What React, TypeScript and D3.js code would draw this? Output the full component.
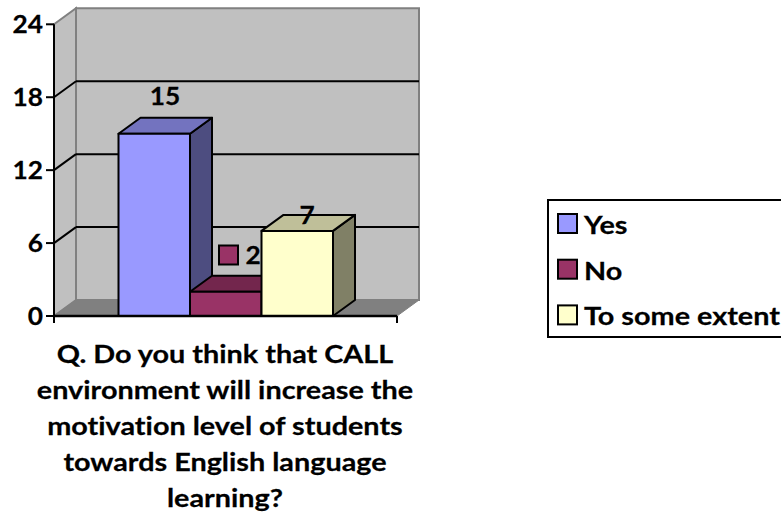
import React from "react";
import * as d3 from "d3";

const seriesNames = ["Yes", "No", "To some extent"];
const seriesValues = [15, 2, 7];
const frontColors = ["#9999ff", "#993366", "#ffffcc"];
const topColors = ["#7373bf", "#73264d", "#bfbf99"];
const sideColors = ["#4d4d80", "#4d1a33", "#808066"];
const yTicks = [0, 6, 12, 18, 24];
const titleLines = [
  "Q. Do you think that CALL",
  "environment will increase the",
  "motivation level of students",
  "towards English language",
  "learning?",
];

const FONT = "Lato, Carlito, sans-serif";
const fs = 25.5;
const SX = 1.13;
const SX_DIGITS = 1.03;
const X0 = 54, X1 = 397, Y0 = 316, Y24 = 24.3, DX = 22, DY = -16;

function Label(props: { x: number; y: number; anchor?: string; sx?: number; children: React.ReactNode }) {
  return (
    <text
      transform={`translate(${props.x},${props.y}) scale(${props.sx ?? SX},1)`}
      textAnchor={props.anchor ?? "start"}
      fontSize={fs}
      stroke="#000"
      strokeWidth={0.25}
      style={{ fontVariantLigatures: "none" }}
    >
      {props.children}
    </text>
  );
}

export default function App() {
  const y = d3.scaleLinear().domain([0, 24]).range([Y0, Y24]);
  const x = d3.scaleBand<string>().domain(seriesNames).range([118.5, 333]);
  const pts = (p: [number, number][]) => p.map((q) => q.join(",")).join(" ");
  const bw = x.bandwidth();
  const wallStroke = "#808080";
  return (
    <svg width={781} height={527} style={{ position: "absolute", left: 0, top: 0, background: "#fff" }} fontFamily={FONT} fontWeight={700}>
      <polygon points={pts([[X0 + DX, Y24 + DY], [X1 + DX, Y24 + DY], [X1 + DX, Y0 + DY], [X0 + DX, Y0 + DY]])} fill="#c0c0c0" stroke={wallStroke} strokeWidth={2} />
      <polygon points={pts([[X0, Y24], [X0 + DX, Y24 + DY], [X0 + DX, Y0 + DY], [X0, Y0]])} fill="#c0c0c0" stroke={wallStroke} strokeWidth={2} />
      <polygon points={pts([[X0, Y0], [X0 + DX, Y0 + DY], [X1 + DX, Y0 + DY], [X1, Y0]])} fill="#808080" stroke={wallStroke} strokeWidth={1} />
      {yTicks.slice(1, -1).map((t) => (
        <g key={t}>
          <line x1={X0} y1={y(t)} x2={X0 + DX} y2={y(t) + DY} stroke="#000" strokeWidth={2} />
          <line x1={X0 + DX} y1={y(t) + DY} x2={X1 + DX} y2={y(t) + DY} stroke="#000" strokeWidth={2} />
        </g>
      ))}
      {seriesNames.map((s, i) => {
        const l = x(s)!;
        const r = l + bw;
        const t = y(seriesValues[i]);
        return (
          <g key={s} stroke="#000" strokeWidth={2} strokeLinejoin="round">
            <polygon points={pts([[r, t], [r + DX, t + DY], [r + DX, Y0 + DY], [r, Y0]])} fill={sideColors[i]} />
            <polygon points={pts([[l, t], [l + DX, t + DY], [r + DX, t + DY], [r, t]])} fill={topColors[i]} />
            <rect x={l} y={t} width={bw} height={Y0 - t} fill={frontColors[i]} />
          </g>
        );
      })}
      <line x1={X0} y1={Y24} x2={X0} y2={Y0 + 7} stroke="#000" strokeWidth={2} />
      <line x1={X0} y1={Y0} x2={X1} y2={Y0} stroke="#000" strokeWidth={2.5} />
      <line x1={X1} y1={Y0} x2={X1} y2={Y0 + 7} stroke="#000" strokeWidth={2} />
      {yTicks.map((t) => (
        <g key={t}>
          <line x1={X0 - 8} y1={y(t)} x2={X0} y2={y(t)} stroke="#000" strokeWidth={2} />
          <Label x={43} y={y(t) + 9} anchor="end" sx={SX_DIGITS}>{t}</Label>
        </g>
      ))}
      <Label x={165} y={105} anchor="middle" sx={SX_DIGITS}>{seriesValues[0]}</Label>
      <rect x={219} y={245.5} width={19} height={19} fill={frontColors[1]} stroke="#000" strokeWidth={2} />
      <Label x={253} y={264} anchor="middle" sx={SX_DIGITS}>{seriesValues[1]}</Label>
      <Label x={307} y={224} anchor="middle" sx={SX_DIGITS}>{seriesValues[2]}</Label>
      {titleLines.map((line, i) => (
        <Label key={line} x={225} y={363 + i * 36} anchor="middle">{line}</Label>
      ))}
      <rect x={548} y={200} width={240} height={137} fill="#fff" stroke="#000" strokeWidth={2} />
      {seriesNames.map((s, i) => (
        <g key={s}>
          <rect x={558} y={214 + i * 45.7} width={19} height={19} fill={frontColors[i]} stroke="#000" strokeWidth={2} />
          <Label x={584} y={234 + i * 45.7}>{s}</Label>
        </g>
      ))}
    </svg>
  );
}
